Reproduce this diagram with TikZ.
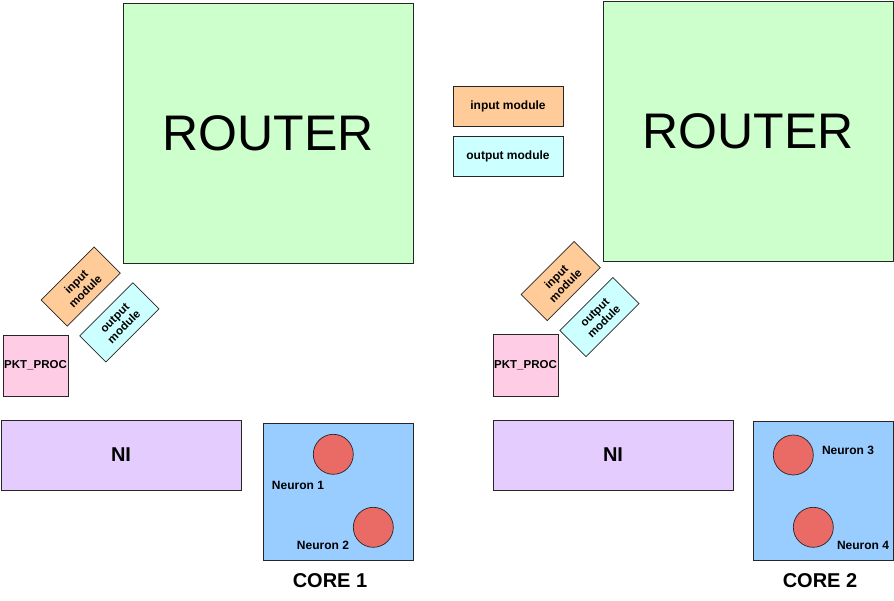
\documentclass[tikz,border=0pt]{standalone}
\usepackage{fontspec}
\setmainfont{Liberation Sans}

\definecolor{routergreen}{HTML}{CCFFCC}
\definecolor{inorange}{HTML}{FFCC99}
\definecolor{outcyan}{HTML}{CCFFFF}
\definecolor{pktpink}{HTML}{FFCCE6}
\definecolor{nipurple}{HTML}{E5CCFF}
\definecolor{coreblue}{HTML}{99CCFF}
\definecolor{neuronred}{HTML}{EA6B66}

\begin{document}
\begin{tikzpicture}[x=1pt, y=-1pt,
    box/.style={draw=black!85, line width=0.7pt, inner sep=0pt},
    router/.style={box, fill=routergreen, minimum width=290, minimum height=260,
        font=\fontsize{50}{60}\selectfont},
    port/.style={box, minimum width=75, minimum height=37, rotate=45, align=center,
        font=\fontsize{11.5}{13}\selectfont\bfseries},
    legend/.style={box, minimum width=110, minimum height=40,
        font=\fontsize{12}{14}\selectfont\bfseries},
    neuron/.style={circle, draw=black!85, line width=0.7pt, fill=neuronred, minimum size=40},
    tag/.style={font=\fontsize{12}{14}\selectfont\bfseries},
    corename/.style={font=\fontsize{20}{24}\selectfont\bfseries}]

    \useasboundingbox (0,0) rectangle (894,600);

    % Routers of both tiles
    \node[router] (router1) at (268,133) {ROUTER};
    \node[router] (router2) at (748,131) {ROUTER};

    % Legend between the routers
    \node[legend, fill=inorange] (leg_in) at (508,106) {input module};
    \node[legend, fill=outcyan] (leg_out) at (508,156) {output module};

    % Tilted input/output modules next to each router
    \foreach \i/\ix/\iy/\ox/\oy in {1/80.7/286.5/119.4/322.4, 2/560.7/281.1/599.4/317.1} {
        \node[port, fill=inorange] (in\i) at (\ix,\iy) {input\\module};
        \node[port, fill=outcyan] (out\i) at (\ox,\oy) {output\\module};
    }

    % Packet processors
    \node[box, fill=pktpink, minimum width=65, minimum height=61,
        font=\fontsize{11.5}{13}\selectfont\bfseries] (pkt1) at (35.5,365.5) {PKT\_PROC};
    \node[box, fill=pktpink, minimum width=65, minimum height=62,
        font=\fontsize{11.5}{13}\selectfont\bfseries] (pkt2) at (525.5,365) {PKT\_PROC};

    % Network interfaces
    \node[box, fill=nipurple, minimum width=240, minimum height=70, corename] (ni1) at (121,455) {NI};
    \node[box, fill=nipurple, minimum width=240, minimum height=70, corename] (ni2) at (613,455) {NI};

    % Core 1 with its neurons
    \node[box, fill=coreblue, minimum width=150, minimum height=137] (core1) at (338,491.5) {};
    \node[neuron] (n1) at (333.3,454.3) {};
    \node[neuron] (n2) at (373.3,527.3) {};
    \node[tag] (n1_lbl) at (298,485) {Neuron 1};
    \node[tag] (n2_lbl) at (323,545) {Neuron 2};
    \node[corename] (core1_lbl) at (330,581) {CORE 1};

    % Core 2 with its neurons
    \node[box, fill=coreblue, minimum width=140, minimum height=139] (core2) at (823,490.5) {};
    \node[neuron] (n3) at (793.3,455) {};
    \node[neuron] (n4) at (813.3,527.3) {};
    \node[tag] (n3_lbl) at (848,450) {Neuron 3};
    \node[tag] (n4_lbl) at (863,545) {Neuron 4};
    \node[corename] (core2_lbl) at (820,581) {CORE 2};

\end{tikzpicture}
\end{document}
